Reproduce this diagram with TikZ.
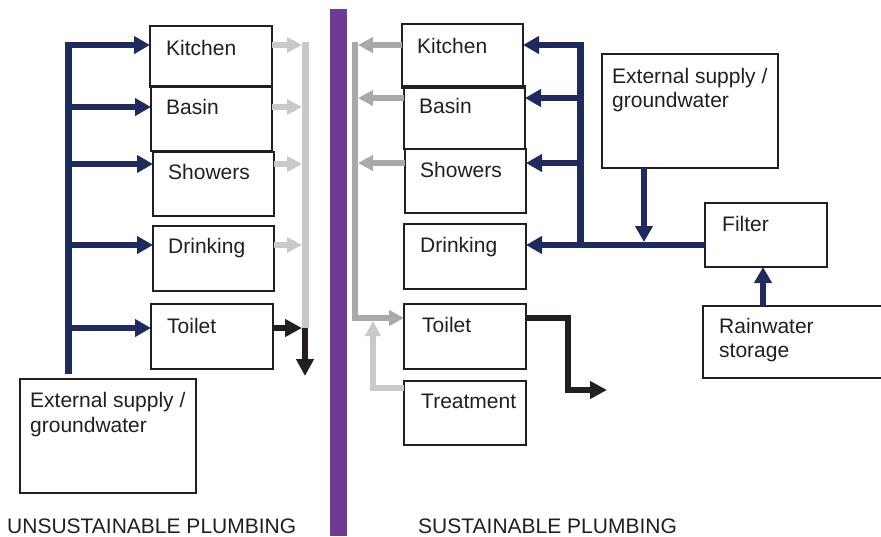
\documentclass[tikz,border=0pt]{standalone}
\usepackage{fontspec}
\setmainfont{Liberation Sans}
\usetikzlibrary{arrows.meta}
\definecolor{navy}{HTML}{1F2A5E}
\definecolor{ink}{HTML}{231F20}
\definecolor{midgray}{HTML}{A7A9AC}
\definecolor{ltgray}{HTML}{C8C9CB}
\definecolor{divider}{HTML}{6F3996}
\tikzset{
  box/.style={draw=ink, line width=1.5pt, inner sep=0pt, outer sep=0pt, anchor=north west},
  lbl/.style={inner sep=0pt, anchor=base west, text=ink, font=\fontsize{21}{25}\selectfont},
  navypipe/.style={draw=navy, line width=6pt, line join=miter},
  trunk/.style={line width=7pt},
  navyarrow/.style={navypipe, -{Triangle[length=16pt,width=17pt]}},
  ltpipe/.style={draw=ltgray, line width=6pt, line join=miter},
  ltarrow/.style={ltpipe, -{Triangle[length=15pt,width=15pt]}},
  midpipe/.style={draw=midgray, line width=6pt, line join=miter},
  midarrow/.style={midpipe, -{Triangle[length=15pt,width=15pt]}},
  blackarrow/.style={draw=ink, line width=6pt, line join=miter, -{Triangle[length=17pt,width=17pt]}},
}
\newcommand{\plumbbox}[5]{\node[box, minimum width={(#4-#2)*1pt}, minimum height={(#5-#3)*1pt}] (#1) at (#2,#3) {};}
\begin{document}
\begin{tikzpicture}[x=1pt,y=-1pt]
\useasboundingbox (0,0) rectangle (881,536);
\fill[white] (0,0) rectangle (881,536);
% divider
\fill[divider] (330,9) rectangle (347,536);

% ---------- left: unsustainable ----------
\plumbbox{kL}{150}{26}{272}{87}
\plumbbox{bL}{151}{86}{272}{151}
\plumbbox{sL}{153}{152}{274}{216}
\plumbbox{dL}{153}{226}{274}{291}
\plumbbox{tL}{151}{304}{273}{369}
\plumbbox{eL}{20}{379}{196}{493}
\node[lbl] (kLt) at (166,55) {Kitchen};
\node[lbl] (bLt) at (166,114) {Basin};
\node[lbl] (sLt) at (168,179) {Showers};
\node[lbl] (dLt) at (168,253) {Drinking};
\node[lbl] (tLt) at (167,333) {Toilet};
\node[lbl] (eLt1) at (30,407) {External supply /};
\node[lbl] (eLt2) at (30,432) {groundwater};

\coordinate (lTop) at (68,45);
\coordinate (lBot) at (68,374);
\coordinate (lj2) at (68,107);
\coordinate (lj3) at (68,164);
\coordinate (lj4) at (68,245);
\coordinate (lj5) at (68,328);
\draw[navypipe, trunk] (lBot) -- (lTop);
\draw[navyarrow] (68,45) ++(-3.5,0) coordinate (lTopL) (lTopL) -- (lTop -| kL.west);
\draw[navyarrow] (lj2) -- (lj2 -| bL.west);
\draw[navyarrow] (lj3) -- (lj3 -| sL.west);
\draw[navyarrow] (lj4) -- (lj4 -| dL.west);
\draw[navyarrow] (lj5) -- (lj5 -| tL.west);

\coordinate (gTop) at (305,42);
\coordinate (gJoin) at (305,328);
\draw[ltpipe, trunk] (gTop) -- (gJoin);
\coordinate (gt1) at (302,45);
\coordinate (gt2) at (302,107);
\coordinate (gt3) at (302,164);
\coordinate (gt4) at (302,245);
\draw[ltarrow] (gt1 -| kL.east) -- (gt1);
\draw[ltarrow] (gt2 -| bL.east) -- (gt2);
\draw[ltarrow] (gt3 -| sL.east) -- (gt3);
\draw[ltarrow] (gt4 -| dL.east) -- (gt4);
\coordinate (bt) at (302,328);
\coordinate (bEnd) at (305,376);
\draw[blackarrow] (bt -| tL.east) -- (bt);
\draw[blackarrow] (gJoin) -- (bEnd);

% ---------- right: sustainable ----------
\plumbbox{kR}{402}{24}{523}{88}
\plumbbox{bR}{404}{86}{525}{149}
\plumbbox{sR}{405}{149}{526}{213}
\plumbbox{dR}{404}{224}{526}{289}
\plumbbox{tR}{404}{304}{526}{369}
\plumbbox{trR}{404}{381}{526}{445}
\plumbbox{eR}{602}{54}{778}{168}
\plumbbox{fR}{705}{203}{827}{267}
\plumbbox{rR}{703}{306}{884}{378}
\node[lbl] (kRt) at (417,53) {Kitchen};
\node[lbl] (bRt) at (419,113) {Basin};
\node[lbl] (sRt) at (420,177) {Showers};
\node[lbl] (dRt) at (420,252) {Drinking};
\node[lbl] (tRt) at (422,332) {Toilet};
\node[lbl] (trRt) at (421,408) {Treatment};
\node[lbl] (eRt1) at (612,83) {External supply /};
\node[lbl] (eRt2) at (612,107) {groundwater};
\node[lbl] (fRt) at (722,231) {Filter};
\node[lbl] (rRt1) at (719,333) {Rainwater};
\node[lbl] (rRt2) at (719,357) {storage};

\coordinate (rgTop) at (355,42);
\coordinate (rgBend) at (355,318);
\draw[midarrow] (rgTop) -- (rgBend) -- (rgBend -| tR.west);
\coordinate (rg1) at (358,45);
\coordinate (rg2) at (358,98);
\coordinate (rg3) at (358,163);
\draw[midarrow] (rg1 -| kR.west) -- (rg1);
\draw[midarrow] (rg2 -| bR.west) -- (rg2);
\draw[midarrow] (rg3 -| sR.west) -- (rg3);
\coordinate (trBend) at (373,388);
\coordinate (trTip) at (373,321);
\draw[ltarrow] (trBend -| trR.west) -- (trBend) -- (trTip);
\coordinate (bk1) at (568,318);
\coordinate (bk2) at (568,390);
\coordinate (bkTip) at (607,390);
\draw[blackarrow] (bk1 -| tR.east) -- (bk1) -- (bk2) -- (bkTip);

\coordinate (rTop) at (580,45);
\coordinate (rBot) at (580,245);
\coordinate (rj2) at (580,98);
\coordinate (rj3) at (580,163);
\draw[navypipe, trunk] (rBot) -- (rTop);
\draw[navypipe] (rBot -| fR.west) -- (rBot);
\draw[navyarrow] (583.5,45) coordinate (rTopR) (rTopR) -- (rTop -| kR.east);
\draw[navyarrow] (rj2) -- (rj2 -| bR.east);
\draw[navyarrow] (rj3) -- (rj3 -| sR.east);
\draw[navyarrow] (rBot) -- (rBot -| dR.east);
\coordinate (eTip) at (644,242);
\draw[navyarrow] (eTip |- eR.south) -- (eTip);
\coordinate (rx) at (763,300);
\draw[navyarrow] (rx |- rR.north) -- (rx |- fR.south);

% ---------- captions ----------
\node[lbl] (capL) at (7,533) {UNSUSTAINABLE PLUMBING};
\node[lbl] (capR) at (418,533) {SUSTAINABLE PLUMBING};
\end{tikzpicture}
\end{document}
